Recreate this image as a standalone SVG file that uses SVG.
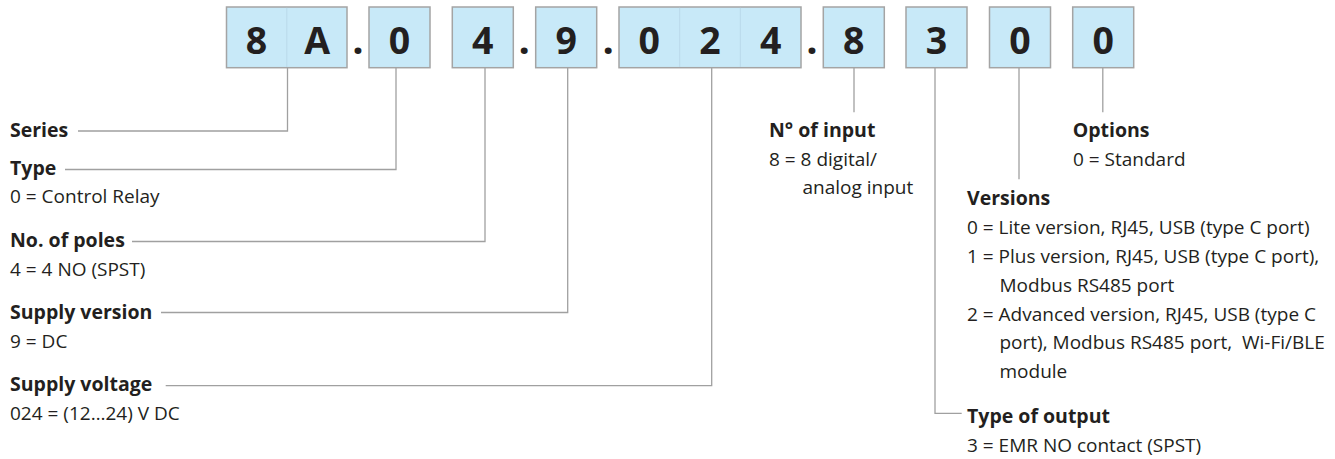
<svg xmlns="http://www.w3.org/2000/svg" width="1335" height="459" viewBox="0 0 1335 459">
  <style>
    .box { fill: #c8e9f8; stroke: #a4a4a4; stroke-width: 1.5; }
    .div { stroke: #bad9ea; stroke-width: 1; }
    .dig { font-family: "Open Sans", "Liberation Sans", sans-serif; font-weight: 700; font-size: 37.5px; fill: #231f20; text-anchor: middle; }
    .dot { font-size: 40px; }
    .h { font-family: "Open Sans", "Liberation Sans", sans-serif; font-weight: 700; font-size: 19.5px; fill: #231f20; }
    .t { font-family: "Open Sans", "Liberation Sans", sans-serif; font-weight: 400; font-size: 19px; fill: #231f20; }
    .conn { fill: none; stroke: #a0a0a0; stroke-width: 1.3; }
  </style>

  <g id="connectors">
    <polyline class="conn" points="287.5,68 287.5,131 78,131"/>
    <polyline class="conn" points="396,68 396,169.5 65,169.5"/>
    <polyline class="conn" points="485,68 485,241.5 132,241.5"/>
    <polyline class="conn" points="567.7,68 567.7,312.5 161,312.5"/>
    <polyline class="conn" points="711.7,68 711.7,385.7 165.7,385.7"/>
    <line class="conn" x1="854" y1="68" x2="854" y2="112.3"/>
    <polyline class="conn" points="935,68 935,413.3 961.7,413.3"/>
    <line class="conn" x1="1019" y1="68" x2="1019" y2="179.3"/>
    <line class="conn" x1="1102.8" y1="68" x2="1102.8" y2="112.3"/>
  </g>

  <g id="code-series">
    <rect class="box" x="226.5" y="7" width="120.5" height="60.7"/>
    <line class="div" x1="286.8" y1="7.8" x2="286.8" y2="67"/>
    <text class="dig" x="256.6" y="53.7">8</text>
    <text class="dig" x="317.2" y="53.7">A</text>
  </g>
  <g id="code-separators">
    <text class="dig dot" x="358" y="53.7">.</text>
    <text class="dig dot" x="524.3" y="53.7">.</text>
    <text class="dig dot" x="608.3" y="53.7">.</text>
    <text class="dig dot" x="812" y="53.7">.</text>
  </g>
  <g id="code-type">
    <rect class="box" x="369" y="7" width="61" height="60.7"/>
    <text class="dig" x="399.5" y="53.7">0</text>
  </g>
  <g id="code-poles">
    <rect class="box" x="452.3" y="7" width="61" height="60.7"/>
    <text class="dig" x="482.8" y="53.7">4</text>
  </g>
  <g id="code-supply-version">
    <rect class="box" x="535.7" y="7" width="61" height="60.7"/>
    <text class="dig" x="566.2" y="53.7">9</text>
  </g>
  <g id="code-supply-voltage">
    <rect class="box" x="619" y="7" width="182" height="60.7"/>
    <line class="div" x1="679.7" y1="7.8" x2="679.7" y2="67"/>
    <line class="div" x1="740.3" y1="7.8" x2="740.3" y2="67"/>
    <text class="dig" x="649.3" y="53.7">0</text>
    <text class="dig" x="710" y="53.7">2</text>
    <text class="dig" x="770.7" y="53.7">4</text>
  </g>
  <g id="code-inputs">
    <rect class="box" x="823.3" y="7" width="61" height="60.7"/>
    <text class="dig" x="853.8" y="53.7">8</text>
  </g>
  <g id="code-output">
    <rect class="box" x="906" y="7" width="61" height="60.7"/>
    <text class="dig" x="936.5" y="53.7">3</text>
  </g>
  <g id="code-versions">
    <rect class="box" x="989.5" y="7" width="61" height="60.7"/>
    <text class="dig" x="1020" y="53.7">0</text>
  </g>
  <g id="code-options">
    <rect class="box" x="1072.7" y="7" width="61" height="60.7"/>
    <text class="dig" x="1103.2" y="53.7">0</text>
  </g>

  <g id="label-series">
    <text class="h" x="10" y="137">Series</text>
  </g>
  <g id="label-type">
    <text class="h" x="10" y="174.5">Type</text>
    <text class="t" x="10" y="203">0 = Control Relay</text>
  </g>
  <g id="label-poles">
    <text class="h" x="10" y="246.5">No. of poles</text>
    <text class="t" x="10" y="275.5">4 = 4 NO (SPST)</text>
  </g>
  <g id="label-supply-version">
    <text class="h" x="10" y="318.5">Supply version</text>
    <text class="t" x="10" y="347.5">9 = DC</text>
  </g>
  <g id="label-supply-voltage">
    <text class="h" x="10" y="391">Supply voltage</text>
    <text class="t" x="10" y="420">024 = (12…24) V DC</text>
  </g>
  <g id="label-inputs">
    <text class="h" x="769" y="137">N° of input</text>
    <text class="t" x="769" y="166">8 = 8 digital/</text>
    <text class="t" x="802.5" y="194">analog input</text>
  </g>
  <g id="label-options">
    <text class="h" x="1072.7" y="137">Options</text>
    <text class="t" x="1073" y="166">0 = Standard</text>
  </g>
  <g id="label-versions">
    <text class="h" x="967" y="205">Versions</text>
    <text class="t" x="967" y="234">0 = Lite version, RJ45, USB (type C port)</text>
    <text class="t" x="967" y="263">1 = Plus version, RJ45, USB (type C port),</text>
    <text class="t" x="999.5" y="291.5">Modbus RS485 port</text>
    <text class="t" x="967" y="320.5">2 = Advanced version, RJ45, USB (type C</text>
    <text class="t" x="999.5" y="349" xml:space="preserve">port), Modbus RS485 port,  Wi-Fi/BLE</text>
    <text class="t" x="999.5" y="378">module</text>
  </g>
  <g id="label-output">
    <text class="h" x="967" y="422.5">Type of output</text>
    <text class="t" x="967" y="451.5">3 = EMR NO contact (SPST)</text>
  </g>
</svg>
